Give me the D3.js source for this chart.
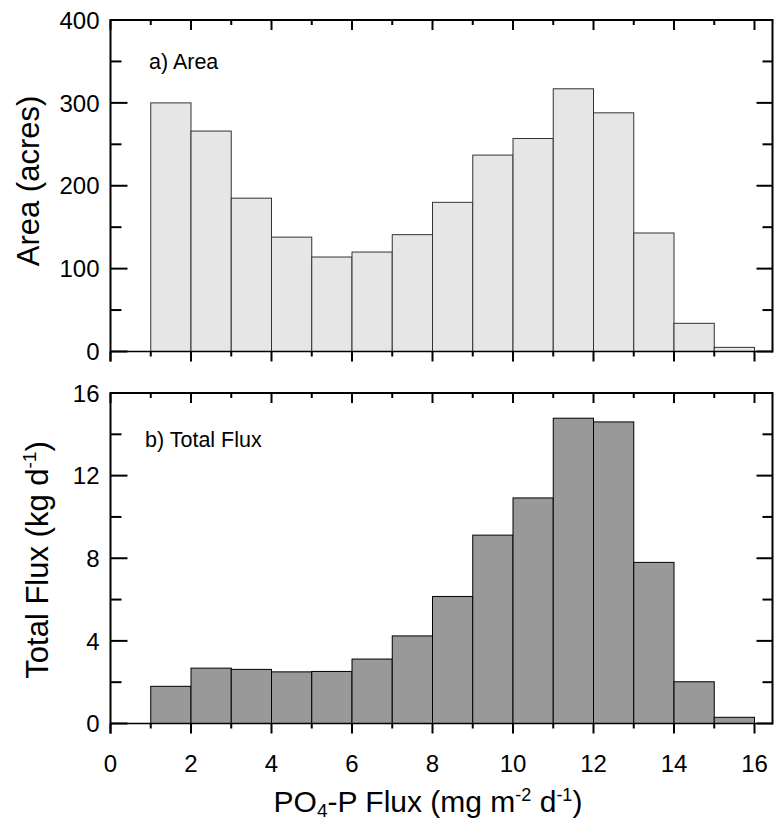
<!DOCTYPE html>
<html>
<head>
<meta charset="utf-8">
<script src="https://cdn.jsdelivr.net/npm/d3@7"></script>
<style>
  body { margin: 0; background: #fff; }
  svg { display: block; font-family: Arial, "Liberation Sans", sans-serif; }
</style>
</head>
<body>
<svg id="chart" width="774" height="820"></svg>
<script>
// bins are 1 unit wide, left edges 1..15
const binStarts = [1, 2, 3, 4, 5, 6, 7, 8, 9, 10, 11, 12, 13, 14, 15];
const areaValues = [300, 266, 185, 138, 114, 120, 141, 180, 237, 257, 317, 288, 143, 34, 5];
const fluxValues = [1.8, 2.68, 2.62, 2.5, 2.52, 3.12, 4.24, 6.15, 9.12, 10.92, 14.78, 14.6, 7.8, 2.02, 0.3];

const xTicks = [0, 2, 4, 6, 8, 10, 12, 14, 16];
const xMinor = [1, 3, 5, 7, 9, 11, 13, 15];
const areaTicks = [0, 100, 200, 300, 400];
const areaMinor = [50, 150, 250, 350];
const fluxTicks = [0, 4, 8, 12, 16];
const fluxMinor = [2, 6, 10, 14];

const svg = d3.select("#chart");
const left = 110.5, right = 772.5;
const x = d3.scaleLinear().domain([0, 16]).range([left, 754.5]);

/**
 * Draw one histogram panel with an Origin-style closed frame.
 */
function drawPanel(opts) {
  const y = d3.scaleLinear().domain(opts.domain).range([opts.bottom, opts.top]);
  const g = svg.append("g");

  // bars
  g.selectAll("rect.bar")
    .data(binStarts.map((s, i) => ({ s, v: opts.values[i] })))
    .enter().append("rect")
    .attr("class", "bar")
    .attr("x", d => x(d.s))
    .attr("width", d => x(d.s + 1) - x(d.s))
    .attr("y", d => y(d.v))
    .attr("height", d => y(0) - y(d.v))
    .attr("fill", opts.fill)
    .attr("stroke", opts.stroke)
    .attr("stroke-width", 1);

  // frame
  const line = (x1, y1, x2, y2, w) => g.append("line")
    .attr("x1", x1).attr("y1", y1).attr("x2", x2).attr("y2", y2)
    .attr("stroke", "#000").attr("stroke-width", w);
  line(left, opts.top, right, opts.top, 2);
  line(left, opts.bottom, right, opts.bottom, 1.5);
  line(left, opts.top - 1, left, opts.bottom + 10, 2);
  line(right, opts.top - 1, right, opts.bottom + 1, 2);

  // x ticks: top inward, bottom outward
  xTicks.forEach(t => {
    line(x(t), opts.top, x(t), opts.top + 10, 2);
    line(x(t), opts.bottom, x(t), opts.bottom + 10, 2);
  });
  xMinor.forEach(t => {
    line(x(t), opts.top, x(t), opts.top + 5, 2);
    line(x(t), opts.bottom, x(t), opts.bottom + 5, 2);
  });

  // y ticks: both sides inward
  opts.ticks.forEach(t => {
    line(left, y(t), left + 17, y(t), 2);
    line(right, y(t), right - 16, y(t), 2);
  });
  opts.minor.forEach(t => {
    line(left, y(t), left + 11, y(t), 2);
    line(right, y(t), right - 10, y(t), 2);
  });

  // y tick labels
  g.selectAll("text.ylab")
    .data(opts.ticks)
    .enter().append("text")
    .attr("class", "ylab")
    .attr("x", left - 11)
    .attr("y", d => y(d))
    .attr("dy", "0.36em")
    .attr("text-anchor", "end")
    .attr("font-size", 24)
    .text(d => d);

  // panel note
  g.append("text")
    .attr("x", opts.noteX)
    .attr("y", opts.noteY)
    .attr("font-size", 21.5)
    .text(opts.note);

  // y title
  const title = g.append("text")
    .attr("transform", `translate(${opts.titleX},${opts.titleY}) rotate(-90)`)
    .attr("text-anchor", "middle")
    .attr("font-size", 31);
  opts.title.forEach(p => {
    title.append("tspan")
      .attr("font-size", p.sup ? 19 : null)
      .attr("dy", p.sup ? -12 : (p.after ? 12 : 0))
      .text(p.t);
  });
  return y;
}

drawPanel({
  domain: [0, 400], top: 20, bottom: 351.5,
  values: areaValues, fill: "#e6e6e6", stroke: "#333",
  ticks: areaTicks, minor: areaMinor,
  note: "a) Area", noteX: 149, noteY: 69,
  titleX: 39, titleY: 181,
  title: [{ t: "Area (acres)" }]
});

drawPanel({
  domain: [0, 16], top: 393, bottom: 723.5,
  values: fluxValues, fill: "#999999", stroke: "#000",
  ticks: fluxTicks, minor: fluxMinor,
  note: "b) Total Flux", noteX: 145, noteY: 447,
  titleX: 48, titleY: 560,
  title: [{ t: "Total Flux (kg d" }, { t: "-1", sup: true }, { t: ")", after: true }]
});

// bottom x labels
svg.selectAll("text.xlab")
  .data(xTicks)
  .enter().append("text")
  .attr("class", "xlab")
  .attr("x", d => x(d))
  .attr("y", 763)
  .attr("dy", "0.36em")
  .attr("text-anchor", "middle")
  .attr("font-size", 24)
  .text(d => d);

// x title with sub/superscripts
const xt = svg.append("text")
  .attr("x", 428)
  .attr("y", 812)
  .attr("text-anchor", "middle")
  .attr("font-size", 30);
[
  { t: "PO" }, { t: "4", d: 5, s: 19 }, { t: "-P Flux (mg m", d: -5 },
  { t: "-2", d: -11, s: 18 }, { t: " d", d: 11 }, { t: "-1", d: -11, s: 18 }, { t: ")", d: 11 }
].forEach(p => {
  xt.append("tspan").attr("dy", p.d || 0).attr("font-size", p.s || null).text(p.t);
});
</script>
</body>
</html>
